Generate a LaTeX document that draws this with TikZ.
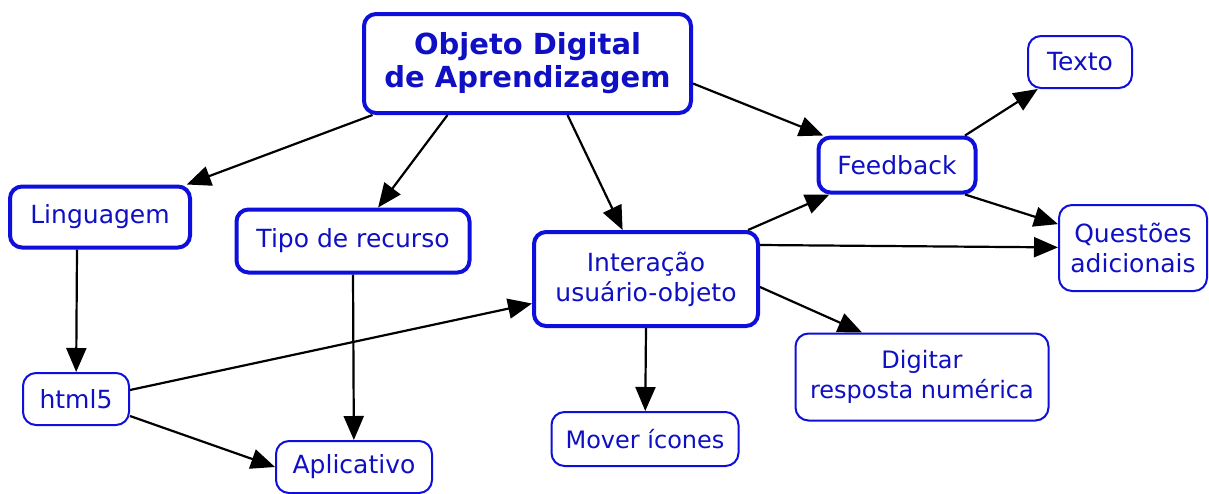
\documentclass[tikz,border=0pt]{standalone}
\usepackage{fontspec}
\setmainfont{DejaVu Sans}
\usepackage{tikz}
\usetikzlibrary{arrows.meta}
\definecolor{concept-blue}{RGB}{15,15,220}
\definecolor{concept-text}{RGB}{15,15,195}
\tikzset{
    concept-box/.style = {draw=concept-blue, fill=white, line width=2pt, rectangle, rounded corners=13pt, text=concept-text, align=center, inner sep=0pt, font=\fontsize{25}{30}\selectfont},
    concept-box-thick/.style = {concept-box, line width=4pt, rounded corners=12pt},
    link/.style = {draw=black, line width=2.2pt, -{Triangle[length=24pt,width=20pt]}},
}

\begin{document}
\begin{tikzpicture}[x=1pt, y=-1pt]
\useasboundingbox (0,0) rectangle (1209,493);
% concepts
\node [concept-box-thick, minimum width=327, minimum height=99, font=\fontsize{29}{33}\selectfont\bfseries] (root) at (527.5,63.5) {Objeto Digital\\de Aprendizagem};
\node [concept-box-thick, minimum width=180, minimum height=61] (ling) at (100,217) {Linguagem};
\node [concept-box-thick, minimum width=233, minimum height=63] (tipo) at (353,241) {Tipo de recurso};
\node [concept-box-thick, minimum width=224, minimum height=94] (inter) at (646,279) {Interação\\usuário-objeto};
\node [concept-box-thick, minimum width=157, minimum height=55] (feedback) at (897,165) {Feedback};
\node [concept-box, minimum width=104, minimum height=52] (texto) at (1080,62) {Texto};
\node [concept-box, minimum width=148, minimum height=86] (questoes) at (1133,248) {Questões\\adicionais};
\node [concept-box, minimum width=253, minimum height=87, font=\fontsize{24}{30}\selectfont] (digitar) at (922,377) {Digitar\\resposta numérica};
\node [concept-box, minimum width=187, minimum height=54, font=\fontsize{24}{30}\selectfont] (mover) at (645,439) {Mover ícones};
\node [concept-box, minimum width=106, minimum height=52] (html) at (76,399) {html5};
\node [concept-box, minimum width=156, minimum height=52] (aplicativo) at (354,467) {Aplicativo};
% links
\draw [link] ([xshift=-155pt]root.south) -- (ling);
\draw [link] ([xshift=-80pt]root.south) -- (tipo);
\draw [link] ([xshift=40pt]root.south) -- (inter);
\draw [link] ([yshift=-20pt]root.east) -- (feedback);
\draw [link] ([xshift=68pt]feedback.north) -- (texto);
\draw [link] ([xshift=68pt]feedback.south) -- (questoes);
\draw [link] ([xshift=-12pt]inter.north east) -- (feedback);
\draw [link] ([yshift=34pt]inter.east) -- (questoes);
\draw [link] ([yshift=-8pt]inter.east) -- ([xshift=-60pt]digitar.north);
\draw [link] (inter.south) -- (mover);
\draw [link] ([xshift=-23pt]ling.south) -- (html);
\draw [link] (tipo.south) -- (aplicativo);
\draw [link] ([yshift=9pt]html.east) -- (inter);
\draw [link] ([yshift=-17pt]html.east) -- (aplicativo.west);
\end{tikzpicture}
\end{document}
